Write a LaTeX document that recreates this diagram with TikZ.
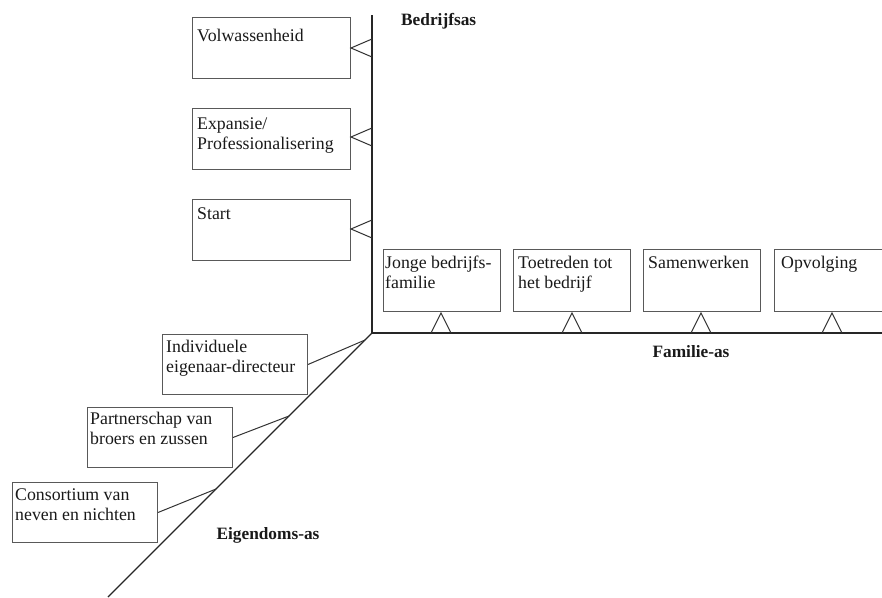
\documentclass[tikz,border=0pt]{standalone}
\usepackage{fontspec}
\setmainfont{Liberation Serif}
\usetikzlibrary{calc}
\begin{document}
\begin{tikzpicture}[x=1pt,y=-1pt,
  axis/.style={draw=black!85, line width=1.2pt},
  box/.style={draw=black!65, line width=1pt, anchor=north west, inner sep=0pt},
  lbox/.style={box, minimum width=158pt, minimum height=61pt},
  fbox/.style={box, minimum width=117pt, minimum height=62pt},
  obox/.style={box, minimum width=145pt, minimum height=60pt},
  txt/.style={anchor=north west, inner sep=0pt, align=left, text=black!90,
    font=\fontsize{17.8}{19.5}\selectfont},
  axlabel/.style={inner sep=0pt, text=black!90, font=\fontsize{17.3}{20}\selectfont\bfseries},
  tri/.style={draw=black!80, line width=1pt, line join=miter},
  conn/.style={draw=black!80, line width=1pt}]
\useasboundingbox (0,0) rectangle (882,597);
% axes
\coordinate (O) at (372,333);
\coordinate (top) at (372,15);
\coordinate (right) at (882,333);
\coordinate (dend) at (108,597);
\draw[axis] (top) -- (O) -- (right);
\draw[axis] (O) -- (dend);
% labels
\node[axlabel, anchor=west] (lb) at (401,21) {Bedrijfsas};
\node[axlabel] (lf) at (691,352) {Familie-as};
\node[axlabel] (le) at (268,535) {Eigendoms-as};
% business axis boxes
\node[lbox] (b1) at (192,17) {};
\node[lbox] (b2) at (192,108) {};
\node[lbox] (b3) at (192,199) {};
\node[txt] at ($(b1.north west)+(5,11)$) {\strut Volwassenheid};
\node[txt] at ($(b2.north west)+(5,8)$) {\strut Expansie/\\Professionalisering};
\node[txt] at ($(b3.north west)+(5,7)$) {\strut Start};
\foreach \y in {48,137,229}
  \draw[tri] (372,\y-9) -- (351,\y) -- (372,\y+9);
% family axis boxes
\node[fbox] (f1) at (383,249) {};
\node[fbox] (f2) at (513,249) {};
\node[fbox] (f3) at (643,249) {};
\node[fbox] (f4) at (774,249) {};
\node[txt] at ($(f1.north west)+(2,6)$) {\strut Jonge bedrijfs-\\familie};
\node[txt] at ($(f2.north west)+(5,6)$) {\strut Toetreden tot\\het bedrijf};
\node[txt] at ($(f3.north west)+(5,6)$) {\strut Samenwerken};
\node[txt] at ($(f4.north west)+(7,6)$) {\strut Opvolging};
\foreach \x in {441,572,701,832}
  \draw[tri] (\x-10,333) -- (\x,313) -- (\x+10,333);
% ownership axis boxes
\node[obox] (o1) at (162,334) {};
\node[obox] (o2) at (87,407) {};
\node[obox] (o3) at (12,482) {};
\node[txt] at ($(o1.north west)+(4,5)$) {\strut Individuele\\eigenaar-directeur};
\node[txt] at ($(o2.north west)+(3,4)$) {\strut Partnerschap van\\broers en zussen};
\node[txt] at ($(o3.north west)+(3,5)$) {\strut Consortium van\\neven en nichten};
\coordinate (p1) at (365,340);
\coordinate (p2) at (289,416);
\coordinate (p3) at (216,489);
\draw[conn] (o1.east) -- (p1);
\draw[conn] (o2.east) -- (p2);
\draw[conn] (o3.east) -- (p3);
\end{tikzpicture}
\end{document}
